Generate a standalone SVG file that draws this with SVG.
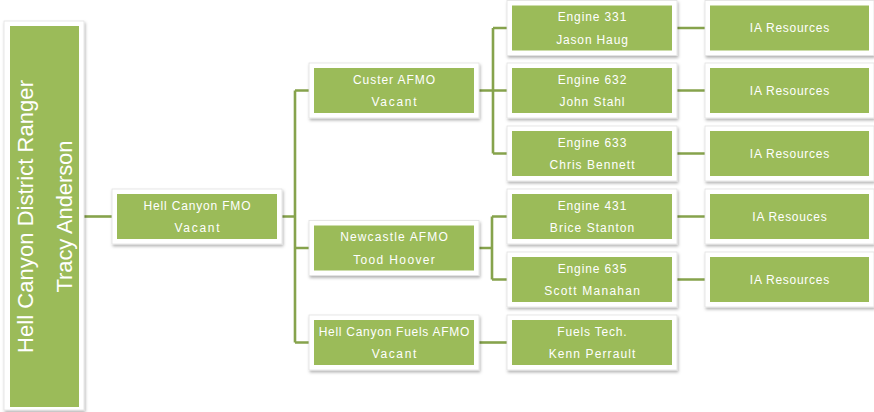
<svg xmlns="http://www.w3.org/2000/svg" width="874" height="412" viewBox="0 0 874 412">
<defs>
<filter id="sh" x="-10%" y="-10%" width="130%" height="140%">
<feDropShadow dx="1" dy="2" stdDeviation="1.5" flood-color="#000" flood-opacity="0.3"/>
</filter>
</defs>
<style>
.frame{fill:#fff;stroke:#e2e2e2;stroke-width:0.8;filter:url(#sh)}
.box{fill:#9bbb59}
.t{font-family:"Liberation Sans",Arial,sans-serif;font-size:12px;fill:#fff;text-anchor:middle}
.rt{font-family:"Liberation Sans",Arial,sans-serif;font-size:22px;fill:#fff;text-anchor:middle}
.ln{stroke:#86a34c;stroke-width:2.6;fill:none}
</style>
<rect width="874" height="412" fill="#fff"/>
<g id="connectors">
<path class="ln" d="M84 216.5H112"/>
<path class="ln" d="M282 216.5H295M295 90.5V342.5M295 90.5H309M295 248H309M295 342.5H309"/>
<path class="ln" d="M479 90.5H493M493 28V153.5M493 28H507M493 90.5H507M493 153.5H507"/>
<path class="ln" d="M479 248H492M492 216.5V279.5M492 216.5H507M492 279.5H507"/>
<path class="ln" d="M479 342.5H507"/>
<path class="ln" d="M677 28H705M677 90.5H705M677 153.5H705M677 216.5H705M677 279.5H705"/>
</g>
<g id="root">
<rect class="frame" x="4" y="21" width="80" height="389"/>
<rect class="box" x="10" y="26" width="69" height="381"/>
<g transform="translate(0,216.5) rotate(-90)">
<text class="rt" x="0" y="33" textLength="273" lengthAdjust="spacing">Hell Canyon District Ranger</text>
<text class="rt" x="0" y="72" textLength="152" lengthAdjust="spacing">Tracy Anderson</text>
</g>
</g>
<g id="fmo">
<rect class="frame" x="112" y="189" width="170" height="55"/>
<rect class="box" x="117" y="194" width="160" height="45"/>
<text class="t" x="197" y="209.5" textLength="107" lengthAdjust="spacing">Hell Canyon FMO</text>
<text class="t" x="197" y="232" textLength="45" lengthAdjust="spacing">Vacant</text>
</g>
<g id="custer">
<rect class="frame" x="309" y="63" width="170" height="55"/>
<rect class="box" x="314" y="68" width="160" height="45"/>
<text class="t" x="394" y="83.5" textLength="82" lengthAdjust="spacing">Custer AFMO</text>
<text class="t" x="394" y="106" textLength="45" lengthAdjust="spacing">Vacant</text>
</g>
<g id="newcastle">
<rect class="frame" x="309" y="220.5" width="170" height="55"/>
<rect class="box" x="314" y="225.5" width="160" height="45"/>
<text class="t" x="394" y="241" textLength="107.7" lengthAdjust="spacing">Newcastle AFMO</text>
<text class="t" x="394" y="263.5" textLength="81.7" lengthAdjust="spacing">Tood Hoover</text>
</g>
<g id="fuels-afmo">
<rect class="frame" x="309" y="315" width="170" height="55"/>
<rect class="box" x="314" y="320" width="160" height="45"/>
<text class="t" x="394" y="335.5" textLength="150.7" lengthAdjust="spacing">Hell Canyon Fuels AFMO</text>
<text class="t" x="394" y="358" textLength="44.7" lengthAdjust="spacing">Vacant</text>
</g>
<g id="engine331">
<rect class="frame" x="507" y="0.5" width="170" height="55"/>
<rect class="box" x="512" y="5.5" width="160" height="45"/>
<text class="t" x="592" y="21" textLength="68.7" lengthAdjust="spacing">Engine 331</text>
<text class="t" x="592" y="43.5" textLength="71.7" lengthAdjust="spacing">Jason Haug</text>
</g>
<g id="engine632">
<rect class="frame" x="507" y="63" width="170" height="55"/>
<rect class="box" x="512" y="68" width="160" height="45"/>
<text class="t" x="592" y="83.5" textLength="68.7" lengthAdjust="spacing">Engine 632</text>
<text class="t" x="592" y="106" textLength="65" lengthAdjust="spacing">John Stahl</text>
</g>
<g id="engine633">
<rect class="frame" x="507" y="126" width="170" height="55"/>
<rect class="box" x="512" y="131" width="160" height="45"/>
<text class="t" x="592" y="146.5" textLength="68.7" lengthAdjust="spacing">Engine 633</text>
<text class="t" x="592" y="169" textLength="85" lengthAdjust="spacing">Chris Bennett</text>
</g>
<g id="engine431">
<rect class="frame" x="507" y="189" width="170" height="55"/>
<rect class="box" x="512" y="194" width="160" height="45"/>
<text class="t" x="592" y="209.5" textLength="68.7" lengthAdjust="spacing">Engine 431</text>
<text class="t" x="592" y="232" textLength="84.3" lengthAdjust="spacing">Brice Stanton</text>
</g>
<g id="engine635">
<rect class="frame" x="507" y="252" width="170" height="55"/>
<rect class="box" x="512" y="257" width="160" height="45"/>
<text class="t" x="592" y="272.5" textLength="68.7" lengthAdjust="spacing">Engine 635</text>
<text class="t" x="592" y="295" textLength="95.7" lengthAdjust="spacing">Scott Manahan</text>
</g>
<g id="fuels-tech">
<rect class="frame" x="507" y="315" width="170" height="55"/>
<rect class="box" x="512" y="320" width="160" height="45"/>
<text class="t" x="592" y="335.5" textLength="69.3" lengthAdjust="spacing">Fuels Tech.</text>
<text class="t" x="592" y="358" textLength="86.7" lengthAdjust="spacing">Kenn Perrault</text>
</g>
<g id="ia1">
<rect class="frame" x="705" y="0.5" width="169" height="55"/>
<rect class="box" x="710" y="5.5" width="159" height="45"/>
<text class="t" x="789.5" y="32.3" textLength="79.3" lengthAdjust="spacing">IA Resources</text>
</g>
<g id="ia2">
<rect class="frame" x="705" y="63" width="169" height="55"/>
<rect class="box" x="710" y="68" width="159" height="45"/>
<text class="t" x="789.5" y="94.8" textLength="79.3" lengthAdjust="spacing">IA Resources</text>
</g>
<g id="ia3">
<rect class="frame" x="705" y="126" width="169" height="55"/>
<rect class="box" x="710" y="131" width="159" height="45"/>
<text class="t" x="789.5" y="157.8" textLength="79.3" lengthAdjust="spacing">IA Resources</text>
</g>
<g id="ia4">
<rect class="frame" x="705" y="189" width="169" height="55"/>
<rect class="box" x="710" y="194" width="159" height="45"/>
<text class="t" x="789.5" y="220.8" textLength="74.3" lengthAdjust="spacing">IA Resouces</text>
</g>
<g id="ia5">
<rect class="frame" x="705" y="252" width="169" height="55"/>
<rect class="box" x="710" y="257" width="159" height="45"/>
<text class="t" x="789.5" y="283.8" textLength="79.3" lengthAdjust="spacing">IA Resources</text>
</g>
</svg>
